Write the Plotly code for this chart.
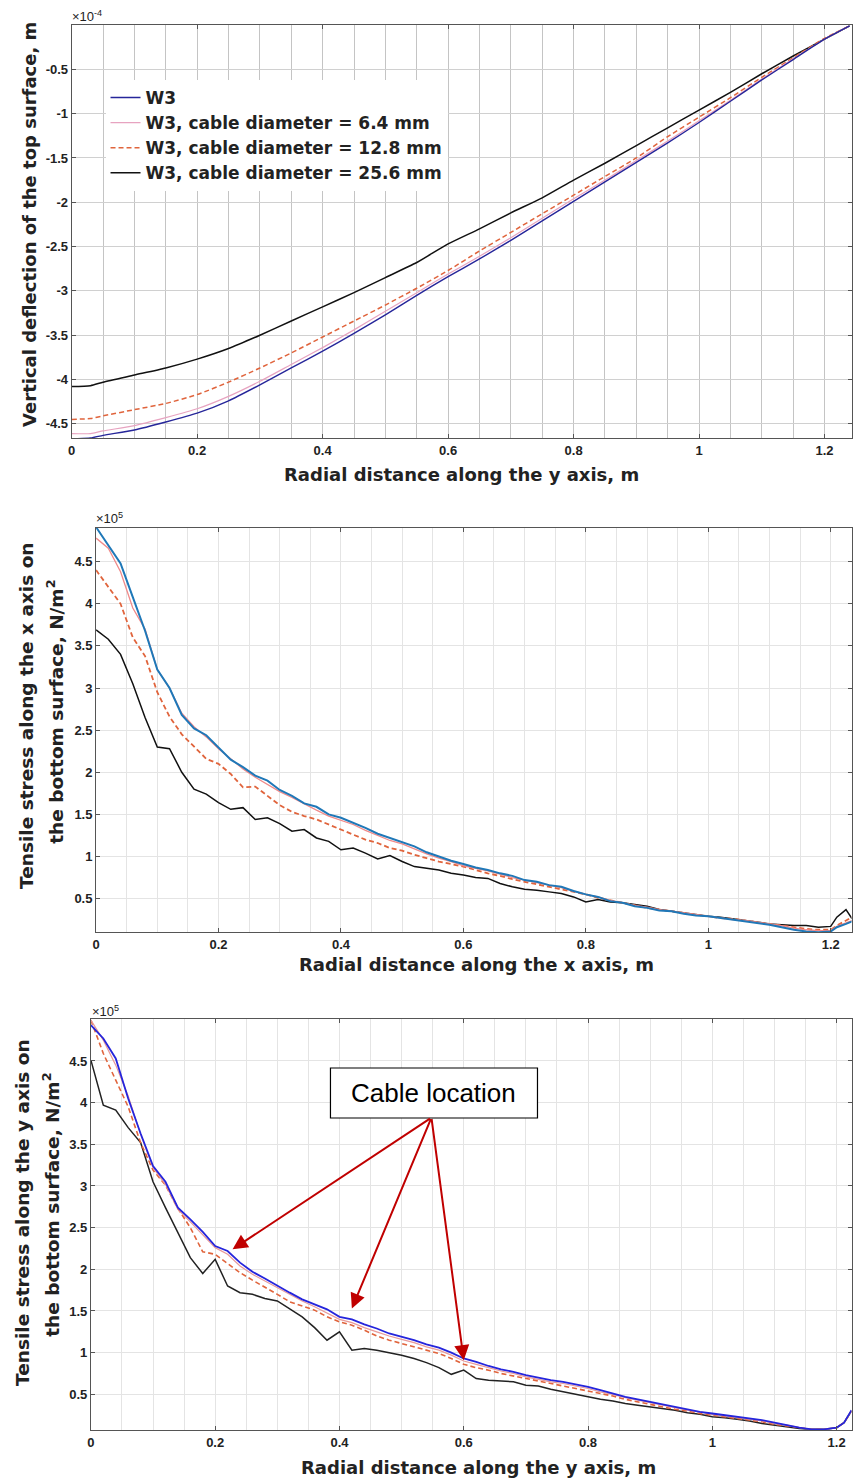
import plotly.graph_objects as go

# ---------------- Panel 1: vertical deflection (x 1e-4 m) ----------------
p1_x = [0, 0.03, 0.05, 0.1, 0.15, 0.2, 0.25, 0.3, 0.35, 0.4, 0.45, 0.5, 0.55, 0.6,
        0.65, 0.7, 0.75, 0.8, 0.85, 0.9, 0.95, 1.0, 1.05, 1.1, 1.15, 1.2, 1.24]
p1_w3 = [-4.67, -4.66, -4.63, -4.57, -4.48, -4.38, -4.24, -4.06, -3.87, -3.68, -3.48, -3.27,
         -3.05, -2.84, -2.64, -2.43, -2.21, -1.99, -1.77, -1.55, -1.33, -1.10, -0.86, -0.62,
         -0.39, -0.16, -0.01]
p1_d64 = [-4.61, -4.61, -4.58, -4.52, -4.43, -4.33, -4.19, -4.02, -3.83, -3.64, -3.44, -3.23,
          -3.02, -2.81, -2.61, -2.40, -2.18, -1.96, -1.75, -1.53, -1.31, -1.08, -0.85, -0.61,
          -0.38, -0.16, -0.01]
p1_d128 = [-4.45, -4.44, -4.41, -4.34, -4.27, -4.17, -4.03, -3.87, -3.70, -3.52, -3.34, -3.16,
           -2.97, -2.77, -2.55, -2.34, -2.13, -1.92, -1.71, -1.50, -1.26, -1.04, -0.82, -0.59,
           -0.37, -0.15, -0.01]
p1_d256 = [-4.08, -4.07, -4.03, -3.95, -3.87, -3.77, -3.65, -3.50, -3.34, -3.18, -3.02, -2.85,
           -2.68, -2.47, -2.30, -2.12, -1.95, -1.75, -1.56, -1.36, -1.16, -0.96, -0.76, -0.55,
           -0.35, -0.16, -0.01]

# ---------------- Panel 2: stress along x axis (x 1e5 N/m^2) ----------------
p2_x = [0.00, 0.02, 0.04, 0.06, 0.08, 0.10, 0.12, 0.14, 0.16, 0.18, 0.20, 0.22, 0.24, 0.26,
        0.28, 0.30, 0.32, 0.34, 0.36, 0.38, 0.40, 0.42, 0.44, 0.46, 0.48, 0.50, 0.52, 0.54,
        0.56, 0.58, 0.60, 0.62, 0.64, 0.66, 0.68, 0.70, 0.72, 0.74, 0.76, 0.78, 0.80, 0.82,
        0.84, 0.86, 0.88, 0.90, 0.92, 0.94, 0.96, 0.98, 1.00, 1.02, 1.04, 1.06, 1.08, 1.10,
        1.12, 1.14, 1.16, 1.18, 1.20, 1.21, 1.225, 1.235]
p2_w3 = [4.91, 4.70, 4.48, 4.08, 3.68, 3.22, 3.00, 2.68, 2.52, 2.44, 2.30, 2.15, 2.06, 1.96,
         1.90, 1.79, 1.72, 1.63, 1.59, 1.50, 1.46, 1.40, 1.34, 1.27, 1.22, 1.17, 1.12, 1.05,
         1.00, 0.95, 0.91, 0.87, 0.84, 0.80, 0.77, 0.72, 0.70, 0.66, 0.64, 0.59, 0.55, 0.52,
         0.47, 0.45, 0.41, 0.39, 0.36, 0.35, 0.32, 0.30, 0.29, 0.27, 0.25, 0.23, 0.21, 0.19,
         0.16, 0.13, 0.11, 0.10, 0.11, 0.16, 0.20, 0.23]
p2_d64 = [4.78, 4.66, 4.38, 3.95, 3.70, 3.22, 3.00, 2.70, 2.54, 2.42, 2.28, 2.16, 2.04, 1.94,
          1.85, 1.77, 1.70, 1.62, 1.55, 1.48, 1.43, 1.38, 1.31, 1.25, 1.19, 1.15, 1.09, 1.03,
          0.98, 0.94, 0.89, 0.86, 0.83, 0.79, 0.75, 0.72, 0.69, 0.66, 0.63, 0.59, 0.55, 0.52,
          0.48, 0.45, 0.42, 0.40, 0.37, 0.35, 0.33, 0.31, 0.29, 0.27, 0.25, 0.24, 0.22, 0.20,
          0.18, 0.15, 0.13, 0.12, 0.12, 0.17, 0.21, 0.24]
p2_d128 = [4.40, 4.20, 4.00, 3.60, 3.38, 2.95, 2.66, 2.45, 2.31, 2.16, 2.10, 1.98, 1.82, 1.83,
           1.72, 1.61, 1.53, 1.48, 1.44, 1.38, 1.32, 1.26, 1.20, 1.16, 1.10, 1.07, 1.02, 0.98,
           0.94, 0.91, 0.88, 0.84, 0.80, 0.77, 0.73, 0.70, 0.67, 0.64, 0.61, 0.58, 0.55, 0.51,
           0.48, 0.45, 0.42, 0.39, 0.37, 0.35, 0.33, 0.31, 0.29, 0.27, 0.26, 0.24, 0.22, 0.20,
           0.18, 0.16, 0.14, 0.13, 0.13, 0.18, 0.24, 0.28]
p2_d256 = [3.69, 3.58, 3.40, 3.05, 2.65, 2.30, 2.28, 2.00, 1.80, 1.74, 1.64, 1.56, 1.58, 1.44,
           1.46, 1.39, 1.30, 1.32, 1.22, 1.18, 1.08, 1.10, 1.04, 0.97, 1.01, 0.94, 0.88, 0.86,
           0.84, 0.80, 0.78, 0.75, 0.74, 0.68, 0.64, 0.61, 0.60, 0.58, 0.56, 0.52, 0.46, 0.49,
           0.46, 0.45, 0.43, 0.41, 0.37, 0.35, 0.33, 0.31, 0.29, 0.28, 0.26, 0.24, 0.22, 0.20,
           0.19, 0.18, 0.18, 0.16, 0.17, 0.28, 0.37, 0.26]

# ---------------- Panel 3: stress along y axis (x 1e5 N/m^2) ----------------
p3_x = [0.00, 0.02, 0.04, 0.06, 0.08, 0.10, 0.12, 0.14, 0.16, 0.18, 0.20, 0.22, 0.24, 0.26,
        0.28, 0.30, 0.32, 0.34, 0.36, 0.38, 0.40, 0.42, 0.44, 0.46, 0.48, 0.50, 0.52, 0.54,
        0.56, 0.58, 0.60, 0.62, 0.64, 0.66, 0.68, 0.70, 0.72, 0.74, 0.76, 0.78, 0.80, 0.82,
        0.84, 0.86, 0.88, 0.90, 0.92, 0.94, 0.96, 0.98, 1.00, 1.02, 1.04, 1.06, 1.08, 1.10,
        1.12, 1.14, 1.16, 1.18, 1.20, 1.212, 1.224]
p3_w3 = [4.93, 4.77, 4.53, 4.05, 3.63, 3.24, 3.05, 2.74, 2.60, 2.45, 2.28, 2.22, 2.08, 1.97,
         1.89, 1.80, 1.72, 1.64, 1.58, 1.52, 1.43, 1.40, 1.34, 1.29, 1.23, 1.19, 1.15, 1.10,
         1.06, 1.00, 0.93, 0.89, 0.84, 0.80, 0.77, 0.73, 0.70, 0.67, 0.65, 0.62, 0.59, 0.55,
         0.51, 0.47, 0.44, 0.41, 0.38, 0.35, 0.32, 0.29, 0.27, 0.25, 0.23, 0.21, 0.19, 0.16,
         0.13, 0.10, 0.08, 0.08, 0.10, 0.16, 0.31]
p3_d64 = [4.99, 4.75, 4.45, 4.08, 3.62, 3.22, 3.02, 2.72, 2.57, 2.42, 2.26, 2.18, 2.04, 1.94,
          1.86, 1.77, 1.69, 1.62, 1.55, 1.48, 1.40, 1.36, 1.30, 1.25, 1.20, 1.16, 1.12, 1.07,
          1.03, 0.97, 0.90, 0.86, 0.82, 0.78, 0.75, 0.71, 0.68, 0.65, 0.63, 0.60, 0.57, 0.53,
          0.50, 0.46, 0.43, 0.40, 0.37, 0.34, 0.31, 0.29, 0.26, 0.24, 0.22, 0.20, 0.18, 0.15,
          0.13, 0.10, 0.08, 0.08, 0.10, 0.16, 0.30]
p3_d128 = [4.99, 4.59, 4.27, 3.95, 3.52, 3.19, 3.01, 2.73, 2.50, 2.21, 2.18, 2.07, 1.96, 1.87,
           1.79, 1.70, 1.61, 1.56, 1.51, 1.43, 1.37, 1.33, 1.27, 1.20, 1.15, 1.11, 1.07, 1.03,
           0.99, 0.93, 0.86, 0.82, 0.79, 0.75, 0.72, 0.69, 0.66, 0.63, 0.60, 0.57, 0.54, 0.51,
           0.48, 0.44, 0.41, 0.38, 0.35, 0.32, 0.30, 0.27, 0.25, 0.23, 0.21, 0.19, 0.17, 0.14,
           0.12, 0.10, 0.08, 0.08, 0.10, 0.16, 0.30]
p3_d256 = [4.51, 3.97, 3.91, 3.70, 3.52, 3.05, 2.74, 2.44, 2.14, 1.95, 2.12, 1.80, 1.72, 1.70,
           1.65, 1.62, 1.53, 1.43, 1.30, 1.15, 1.25, 1.03, 1.05, 1.03, 1.00, 0.97, 0.93, 0.88,
           0.82, 0.74, 0.79, 0.69, 0.67, 0.66, 0.65, 0.61, 0.60, 0.56, 0.53, 0.50, 0.47, 0.44,
           0.42, 0.39, 0.37, 0.35, 0.33, 0.31, 0.28, 0.26, 0.23, 0.22, 0.20, 0.18, 0.15, 0.13,
           0.11, 0.09, 0.08, 0.08, 0.10, 0.16, 0.30]

legend_names = ["W3", "W3, cable diameter = 6.4 mm", "W3, cable diameter = 12.8 mm",
                "W3, cable diameter = 25.6 mm"]
x_ticks = [0, 0.2, 0.4, 0.6, 0.8, 1, 1.2]
x_ticktext = ["0", "0.2", "0.4", "0.6", "0.8", "1", "1.2"]
p1_yticks = [-4.5, -4, -3.5, -3, -2.5, -2, -1.5, -1, -0.5]
p1_yticktext = ["-4.5", "-4", "-3.5", "-3", "-2.5", "-2", "-1.5", "-1", "-0.5"]
p23_yticks = [0.5, 1, 1.5, 2, 2.5, 3, 3.5, 4, 4.5]
p23_yticktext = ["0.5", "1", "1.5", "2", "2.5", "3", "3.5", "4", "4.5"]

W, H = 853, 1479
FONT = "Liberation Sans, Arial, sans-serif"
BFONT = "DejaVu Sans, Liberation Sans, sans-serif"
TXT = "#222222"

def px(v):
    return v / W

def py(v):
    return 1 - v / H

fig = go.Figure()

styles = {
    1: ["#26269a", "#e7a3c0", "#e0643c", "#111111"],
    2: ["#1f78b8", "#f08a8a", "#e0643c", "#111111"],
    3: ["#2525dc", "#e89a9a", "#e0643c", "#222222"],
}
widths = {1: [1.4, 1.2, 1.5, 1.5], 2: [2.0, 1.3, 1.8, 1.5], 3: [1.8, 1.2, 1.6, 1.5]}
dashes = ["solid", "solid", "5px,3px", "solid"]

panels = [
    (1, p1_x, [p1_w3, p1_d64, p1_d128, p1_d256]),
    (2, p2_x, [p2_w3, p2_d64, p2_d128, p2_d256]),
    (3, p3_x, [p3_w3, p3_d64, p3_d128, p3_d256]),
]
order = [3, 2, 1, 0]
for pi, xs, series in panels:
    for k in order:
        line = dict(color=styles[pi][k], width=widths[pi][k], dash=dashes[k])
        if pi == 1:
            line.update(shape="spline", smoothing=0.6)
        fig.add_trace(go.Scatter(
            x=xs, y=series[k], mode="lines", name=legend_names[k], line=line,
            xaxis="x" if pi == 1 else f"x{pi}", yaxis="y" if pi == 1 else f"y{pi}",
            showlegend=(pi == 1), legendrank=k + 1,
        ))

def xax(domain, anchor, rng, grid):
    return dict(domain=domain, anchor=anchor, range=rng, tickvals=x_ticks, ticktext=x_ticktext,
                ticks="inside", ticklen=4, tickcolor="#555", showline=True, linecolor="#555",
                linewidth=1, mirror="ticks", showgrid=True, gridcolor=grid, zeroline=False,
                tickfont=dict(family=FONT, size=13, color=TXT, weight="bold"),
                minor=dict(dtick=0.05, showgrid=True, gridcolor=grid, ticks=""))

def yax(domain, anchor, rng, tv, tt, grid):
    return dict(domain=domain, anchor=anchor, range=rng, tickvals=tv, ticktext=tt,
                ticks="inside", ticklen=4, tickcolor="#555", showline=True, linecolor="#555",
                linewidth=1, mirror="ticks", showgrid=True, gridcolor=grid, zeroline=False,
                tickfont=dict(family=FONT, size=13, color=TXT, weight="bold"))

fig.update_layout(
    width=W, height=H, margin=dict(l=0, r=0, t=0, b=0),
    paper_bgcolor="white", plot_bgcolor="white",
    xaxis=xax([px(68), px(851.5)], "y", [0, 1.243], "#c4c4c4"),
    yaxis=yax([py(438), py(25)], "x", [-4.66, 0], p1_yticks, p1_yticktext, "#d0d0d0"),
    xaxis2=xax([px(92.5), px(851.5)], "y2", [0, 1.234], "#e4e4e4"),
    yaxis2=yax([py(932.3), py(528)], "x2", [0.10, 4.90], p23_yticks, p23_yticktext, "#e4e4e4"),
    xaxis3=xax([px(87.3), px(851.5)], "y3", [0, 1.224], "#e4e4e4"),
    yaxis3=yax([py(1430), py(1019.3)], "x3", [0.072, 5.0], p23_yticks, p23_yticktext, "#e4e4e4"),
    legend=dict(x=px(102), y=py(80), xanchor="left", yanchor="top", bgcolor="white",
                borderwidth=0, tracegroupgap=0, itemwidth=30, traceorder="normal",
                font=dict(family=BFONT, size=17, color=TXT, weight="bold")),
    showlegend=True,
)

ann = []
def title(text, x, y, angle=0, size=18):
    ann.append(dict(text=text, x=px(x), y=py(y), xref="paper", yref="paper", showarrow=False,
                    textangle=angle, xanchor="center", yanchor="middle",
                    font=dict(family=BFONT, size=size, color=TXT, weight="bold")))

title("Radial distance along the y axis, m", 460, 474)
title("Radial distance along the x axis, m", 475, 964)
title("Radial distance along the y axis, m", 477, 1467)
title("Vertical deflection of the top surface, m", 25, 224, -90, 18)
title("Tensile stress along the x axis on", 22, 716, -90, 18.5)
title("the bottom surface, N/m<sup>2</sup>", 51, 712, -90, 18.5)
title("Tensile stress along the y axis on", 18, 1212, -90, 18.5)
title("the bottom surface, N/m<sup>2</sup>", 47, 1205, -90, 18.5)

def mult(text, x, y):
    ann.append(dict(text=text, x=px(x), y=py(y), xref="paper", yref="paper", showarrow=False,
                    xanchor="left", yanchor="middle",
                    font=dict(family=FONT, size=13, color=TXT)))

mult("×10<sup>-4</sup>", 66, 16)
mult("×10<sup>5</sup>", 90, 518)
mult("×10<sup>5</sup>", 86, 1011)

# Cable location box and arrows (panel 3)
ann.append(dict(text="Cable location", x=px(432), y=py(1093), xref="paper", yref="paper",
                showarrow=False, xanchor="center", yanchor="middle",
                font=dict(family=FONT, size=26, color="#000000")))
tail = (0.548, 3.82)
heads = [(0.228, 2.24), (0.42, 1.53), (0.60, 0.91)]
for hx, hy in heads:
    ann.append(dict(text="", x=hx, y=hy, xref="x3", yref="y3", ax=tail[0], ay=tail[1],
                    axref="x3", ayref="y3", showarrow=True, arrowhead=2, arrowsize=1.5,
                    arrowwidth=2, arrowcolor="#c00000", standoff=0, startstandoff=0))
fig.update_layout(annotations=ann)
fig.add_shape(type="rect", xref="paper", yref="paper", x0=px(328), x1=px(536),
              y0=py(1118), y1=py(1068), line=dict(color="#000000", width=1.2),
              fillcolor="white", layer="above")

fig.write_html("out.html")
